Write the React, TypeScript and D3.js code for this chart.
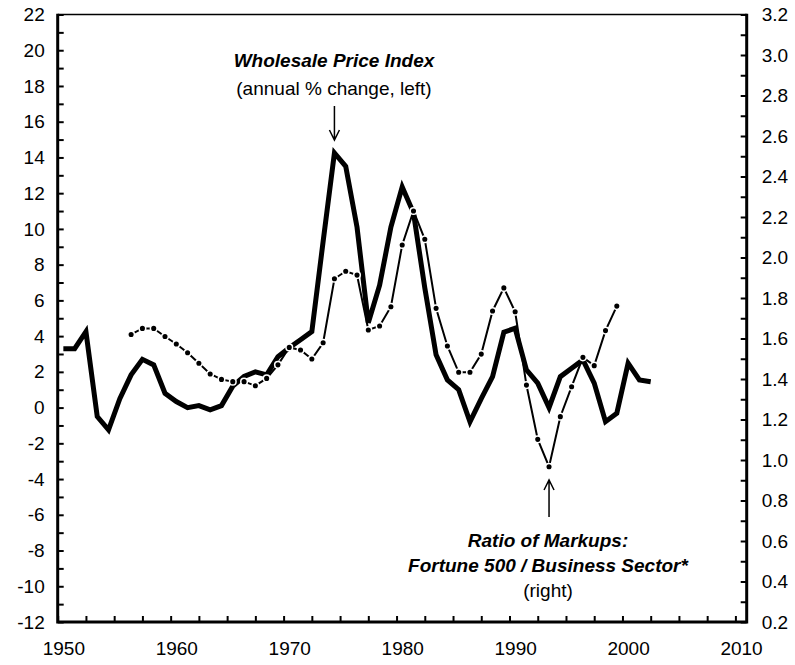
import React, { useEffect, useRef } from 'react';
import * as d3 from 'd3';

// Wholesale price index, annual % change (left axis)
const WPI_YEARS = [
  1950, 1951, 1952, 1953, 1954, 1955, 1956, 1957, 1958, 1959,
  1960, 1961, 1962, 1963, 1964, 1965, 1966, 1967, 1968, 1969,
  1970, 1971, 1972, 1973, 1974, 1975, 1976, 1977, 1978, 1979,
  1980, 1981, 1982, 1983, 1984, 1985, 1986, 1987, 1988, 1989,
  1990, 1991, 1992, 1993, 1994, 1995, 1996, 1997, 1998, 1999,
  2000, 2001, 2002,
];
const WPI_VALUES = [
  3.3, 3.3, 4.25, -0.5, -1.25, 0.5, 1.83, 2.7, 2.39, 0.8,
  0.34, 0.0, 0.11, -0.13, 0.11, 1.2, 1.74, 2.0, 1.83, 2.85,
  3.35, 3.8, 4.25, 9.3, 14.25, 13.5, 10.1, 4.75, 6.85, 10.1,
  12.35, 10.9, 6.7, 2.95, 1.55, 1.0, -0.8, 0.5, 1.73, 4.22,
  4.44, 2.11, 1.37, 0.0, 1.73, 2.2, 2.67, 1.37, -0.79, -0.32,
  2.49, 1.55, 1.45,
];

// Ratio of markups, Fortune 500 / business sector (right axis)
const MARKUP_YEARS = [
  1956, 1957, 1958, 1959, 1960, 1961, 1962, 1963, 1964, 1965,
  1966, 1967, 1968, 1969, 1970, 1971, 1972, 1973, 1974, 1975,
  1976, 1977, 1978, 1979, 1980, 1981, 1982, 1983, 1984, 1985,
  1986, 1987, 1988, 1989, 1990, 1991, 1992, 1993, 1994, 1995,
  1996, 1997, 1998, 1999,
];
const MARKUP_VALUES = [
  1.62, 1.65, 1.65, 1.61, 1.573, 1.53, 1.478, 1.425, 1.398, 1.387,
  1.387, 1.367, 1.403, 1.47, 1.556, 1.543, 1.499, 1.579, 1.895, 1.932,
  1.913, 1.642, 1.662, 1.757, 2.062, 2.23, 2.09, 1.749, 1.563, 1.433,
  1.433, 1.523, 1.736, 1.85, 1.732, 1.37, 1.102, 0.967, 1.214, 1.362,
  1.507, 1.466, 1.639, 1.76,
];

const LEFT_LABELS = [-12, -10, -8, -6, -4, -2, 0, 2, 4, 6, 8, 10, 12, 14, 16, 18, 20, 22];
const RIGHT_LABELS = [0.2, 0.4, 0.6, 0.8, 1.0, 1.2, 1.4, 1.6, 1.8, 2.0, 2.2, 2.4, 2.6, 2.8, 3.0, 3.2];
const YEAR_LABELS = [1950, 1960, 1970, 1980, 1990, 2000, 2010];

const W = 795;
const H = 665;
const FONT = 'Arial, "Liberation Sans", sans-serif';
const FS = 19;

export default function App() {
  const svgRef = useRef<SVGSVGElement>(null);

  useEffect(() => {
    if (!svgRef.current) return;
    document.body.style.margin = '0';
    const svg = d3.select(svgRef.current);
    svg.selectAll('*').remove();

    const left = 57.7, right = 746.7, top = 14.5, bottom = 622;

    // category-style x axis: each year sits in the middle of its slot
    const x = d3.scaleLinear().domain([1949.5, 2010.5]).range([left, right]);
    const yL = d3.scaleLinear().domain([-12, 22]).range([bottom, top]);
    const yR = d3.scaleLinear().domain([0.2, 3.2]).range([bottom, top]);

    const styleAxis = (g: d3.Selection<SVGGElement, unknown, null, undefined>) => {
      g.select('.domain').remove();
      g.selectAll('line').attr('stroke', '#000').attr('stroke-width', 2);
      g.selectAll('text')
        .attr('fill', '#000')
        .style('font-family', FONT)
        .style('font-size', `${FS}px`);
    };

    // tick marks (inward)
    svg.append('g')
      .attr('transform', `translate(${left},0)`)
      .call(d3.axisLeft(yL).tickValues(d3.range(-12, 22.01, 1)).tickSize(-6).tickFormat(() => ''))
      .call(styleAxis);
    svg.append('g')
      .attr('transform', `translate(${right},0)`)
      .call(d3.axisRight(yR).tickValues(d3.range(0.2, 3.21, 0.1)).tickSize(-6).tickFormat(() => ''))
      .call(styleAxis);
    svg.append('g')
      .attr('transform', `translate(0,${bottom})`)
      .call(d3.axisBottom(x).tickValues(d3.range(1949.5, 2010.6, 2.5)).tickSize(-6).tickFormat(() => ''))
      .call(styleAxis);

    // labels (plain hyphen for negatives, as in the original)
    svg.append('g')
      .attr('transform', `translate(${left},0)`)
      .call(d3.axisLeft(yL).tickValues(LEFT_LABELS).tickSize(0).tickPadding(13).tickFormat(d => String(d)))
      .call(styleAxis);
    svg.append('g')
      .attr('transform', `translate(${right},0)`)
      .call(d3.axisRight(yR).tickValues(RIGHT_LABELS).tickSize(0).tickPadding(15).tickFormat(d3.format('.1f')))
      .call(styleAxis);
    svg.append('g')
      .attr('transform', `translate(0,${bottom})`)
      .call(d3.axisBottom(x).tickValues(YEAR_LABELS).tickSize(0).tickPadding(20).tickFormat(d3.format('d')))
      .call(styleAxis);

    // frame
    svg.append('line').attr('x1', left).attr('x2', right).attr('y1', top).attr('y2', top)
      .attr('stroke', '#000').attr('stroke-width', 1.5);
    svg.append('path')
      .attr('d', `M${left},${top - 0.75}V${bottom}H${right}V${top - 0.75}`)
      .attr('fill', 'none').attr('stroke', '#000').attr('stroke-width', 3);

    // WPI thick line
    const wpiLine = d3.line<number>()
      .x((_, i) => x(WPI_YEARS[i]))
      .y(d => yL(d));
    svg.append('path')
      .datum(WPI_VALUES)
      .attr('d', wpiLine)
      .attr('fill', 'none')
      .attr('stroke', '#000')
      .attr('stroke-width', 5)
      .attr('stroke-linejoin', 'miter');

    // markup ratio thin line with dot markers
    const mkLine = d3.line<number>()
      .x((_, i) => x(MARKUP_YEARS[i]))
      .y(d => yR(d));
    svg.append('path')
      .datum(MARKUP_VALUES)
      .attr('d', mkLine)
      .attr('fill', 'none')
      .attr('stroke', '#000')
      .attr('stroke-width', 2);
    svg.append('g')
      .selectAll('circle')
      .data(MARKUP_VALUES)
      .join('circle')
      .attr('cx', (_, i) => x(MARKUP_YEARS[i]))
      .attr('cy', d => yR(d))
      .attr('r', 3.3)
      .attr('fill', '#000')
      .attr('stroke', '#fff')
      .attr('stroke-width', 1.5);

    // annotations
    const note = (tx: number, ty: number, text: string, bold: boolean) =>
      svg.append('text')
        .attr('x', tx).attr('y', ty)
        .attr('text-anchor', 'middle')
        .style('font-family', FONT)
        .style('font-size', `${FS}px`)
        .style('font-weight', bold ? 'bold' : 'normal')
        .style('font-style', bold ? 'italic' : 'normal')
        .text(text);

    const arrow = (ax: number, y0: number, y1: number) => {
      const dir = y1 > y0 ? -1 : 1;
      svg.append('path')
        .attr('d', `M${ax},${y0}V${y1}M${ax - 5},${y1 + dir * 10}L${ax},${y1}L${ax + 5},${y1 + dir * 10}`)
        .attr('fill', 'none').attr('stroke', '#000').attr('stroke-width', 1.5);
    };

    note(334, 67, 'Wholesale Price Index', true);
    note(334, 95, '(annual % change, left)', false);
    arrow(x(1974), 106, 140);

    note(548, 547, 'Ratio of Markups:', true);
    note(548, 572, 'Fortune 500 / Business Sector*', true);
    note(548, 597, '(right)', false);
    arrow(x(1993), 517, 480);
  }, []);

  return <svg ref={svgRef} width={W} height={H} style={{ display: 'block', background: '#fff' }} />;
}
